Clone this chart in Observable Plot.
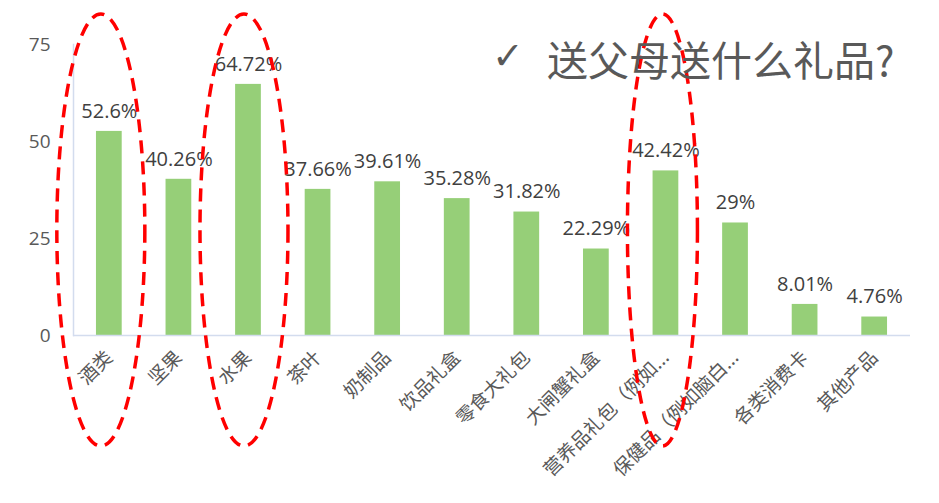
<!DOCTYPE html>
<html><head><meta charset="utf-8">
<script src="https://cdn.jsdelivr.net/npm/d3@7"></script>
<script src="https://cdn.jsdelivr.net/npm/@observablehq/plot@0.6"></script>
<style>
body{margin:0;background:#fff;}
#wrap{position:relative;width:939px;height:503px;overflow:hidden;}
#check{position:absolute;left:492px;top:36px;font-family:"DejaVu Sans";font-size:38px;line-height:40px;color:#595959;}
#title{position:absolute;left:547px;top:37px;font-family:"Noto Sans CJK SC";font-size:41px;line-height:43px;color:#595959;white-space:nowrap;}
</style></head><body>
<div id="wrap"><div id="chart"></div><div id="check">✓</div><div id="title">送父母送什么礼品?</div></div>
<script>
const categories = ["酒类","坚果","水果","茶叶","奶制品","饮品礼盒","零食大礼包","大闸蟹礼盒","营养品礼包（例如...","保健品（例如脑白...","各类消费卡","其他产品"];
const values = [52.6, 40.26, 64.72, 37.66, 39.61, 35.28, 31.82, 22.29, 42.42, 29, 8.01, 4.76];
const yTicks = [0, 25, 50, 75];
const highlighted = ["酒类", "水果", "营养品礼包（例如..."];

const data = categories.map((c, i) => ({category: c, value: values[i]}));

const plot = Plot.plot({
  width: 939, height: 503,
  marginTop: 44, marginBottom: 168, marginLeft: 73, marginRight: 29,
  style: {fontFamily: '"Open Sans","Noto Sans CJK SC",sans-serif', background: "#fff", overflow: "visible"},
  x: {domain: categories, paddingInner: 0.63, paddingOuter: 0.33, round: false, label: null},
  y: {domain: [0, 75], label: null},
  marks: [
    Plot.barY(data, {x: "category", y: "value", fill: "#96cf78"}),
    Plot.ruleY([0], {stroke: "#d3dcee", strokeWidth: 1.5}),
    Plot.frame({anchor: "left", stroke: "#d3dcee", strokeWidth: 1.5}),
    Plot.axisY({ticks: yTicks, tickSize: 0, tickPadding: 23, fontSize: 19, fill: "#595959", label: null}),
    Plot.axisX({tickSize: 0, tickRotate: -45, tickPadding: 19, dx: 0, fontSize: 19, fill: "#595959", label: null, fontFamily: '"Noto Sans CJK SC"', textOverflow: null, lineWidth: Infinity}),
    Plot.text(data, {x: "category", y: "value", text: d => d.value + "%", dy: -20, fontSize: 20, fill: "#404040"})
  ]
});
document.getElementById("chart").appendChild(plot);

// annotation ellipses around highlighted categories
const xs = plot.scale("x");
const bw = xs.bandwidth;
const svg = d3.select(plot);
const ann = {"酒类": {dx: -8, rx: 44}, "水果": {dx: -4, rx: 44}, "营养品礼包（例如...": {dx: -3, rx: 35}};
highlighted.forEach(c => {
  const a = ann[c];
  const cx = xs.apply(c) + bw / 2 + a.dx;
  svg.append("ellipse")
    .attr("cx", cx).attr("cy", 230)
    .attr("rx", a.rx).attr("ry", 216)
    .attr("fill", "none").attr("stroke", "#ff0000")
    .attr("stroke-width", 3.5).attr("stroke-dasharray", "13 8");
});
</script>
</body></html>
